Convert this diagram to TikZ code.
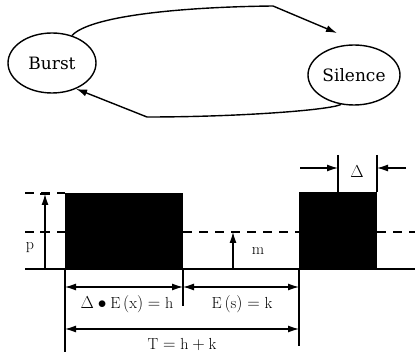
\documentclass[tikz,border=0pt]{standalone}
\usepackage{fontspec}
\usetikzlibrary{shapes.geometric,arrows.meta}
\newfontfamily\statefont{DejaVu Serif}
\begin{document}
\begin{tikzpicture}[x=1pt,y=-1pt,
  line width=1.2pt,
  state/.style={ellipse,draw,line width=1.4pt,inner sep=0pt,font=\statefont\fontsize{17}{20}\selectfont},
  tip/.style={-{Latex[length=11pt,width=7pt]}},
  dimline/.style={{Latex[length=11pt,width=7pt]}-{Latex[length=11pt,width=7pt]}},
  dashline/.style={dash pattern=on 9pt off 7pt},
  lbl/.style={inner sep=0pt,font=\fontsize{16}{19}\selectfont}]
\useasboundingbox (0,0) rectangle (415,352);

% --- two-state model ---
\node[state,minimum width=88pt,minimum height=60pt] (B) at (52,63) {Burst};
\node[state,minimum width=92pt,minimum height=60pt] (S) at (354,75) {Silence};
\coordinate (topK) at (273,6);
\coordinate (topEnd) at (337,33);
\coordinate (botK) at (147,117);
\draw[tip,line width=1.4pt] (B.54) .. controls (90,16) and (180,7) .. (topK) -- (topEnd);
\draw[tip,line width=1.4pt] (S.-114) .. controls (330,110) and (240,117) .. (botK) -- (B.-47);

% --- on/off waveform ---
\coordinate (L0) at (25,269);
\coordinate (R0) at (415,269);
\fill (65,193) rectangle (183,269);
\fill (299,192) rectangle (377,269);
\draw (L0) -- (R0);
\draw[dashline] (25,193) -- (65,193);
\draw[dashline] (25,232) -- (65,232);
\draw[dashline] (183,232) -- (299,232);
\draw[dashline] (377,232) -- (415,232);

% peak and mean levels
\coordinate (p0) at (45,269);
\coordinate (p1) at (45,194);
\draw[tip] (p0) -- (p1);
\draw (40,194) -- (50,194);
\draw (40,232) -- (50,232);
\node[lbl] (plab) at (30,248) {p};
\coordinate (m0) at (233,269);
\coordinate (m1) at (233,232);
\draw[tip] (m0) -- (m1);
\node[lbl] (mlab) at (258,251) {m};

% extension lines
\coordinate (a0) at (65,269);  \coordinate (a1) at (65,352);
\coordinate (b0) at (183,269); \coordinate (b1) at (183,306);
\coordinate (c0) at (299,269); \coordinate (c1) at (299,346);
\draw (a0) -- (a1);
\draw (b0) -- (b1);
\draw (c0) -- (c1);

% dimensions
\coordinate (h0) at (65,287);
\coordinate (h1) at (183,287);
\coordinate (k1) at (299,287);
\draw[dimline] (h0) -- (h1);
\draw[dimline] (h1) -- (k1);
\node[lbl] (hlab) at (127,304) {$\Delta\bullet\mathrm{E}\,(\mathrm{x}) = \mathrm{h}$};
\node[lbl] (klab) at (242,304) {$\mathrm{E}\,(\mathrm{s}) = \mathrm{k}$};
\coordinate (t0) at (65,329);
\coordinate (t1) at (299,329);
\draw[dimline] (t0) -- (t1);
\node[lbl] (tlab) at (182,344) {$\mathrm{T} = \mathrm{h} + \mathrm{k}$};

% cell width
\coordinate (d0) at (338,155); \coordinate (d0b) at (338,192);
\coordinate (d1) at (377,155); \coordinate (d1b) at (377,192);
\draw (d0) -- (d0b);
\draw (d1) -- (d1b);
\coordinate (dl) at (300,168);
\coordinate (dlt) at (338,168);
\coordinate (dr) at (406,168);
\coordinate (drt) at (377,168);
\draw[tip] (dl) -- (dlt);
\draw[tip] (dr) -- (drt);
\node[lbl] (dlab) at (357,172) {$\Delta$};
\end{tikzpicture}
\end{document}
